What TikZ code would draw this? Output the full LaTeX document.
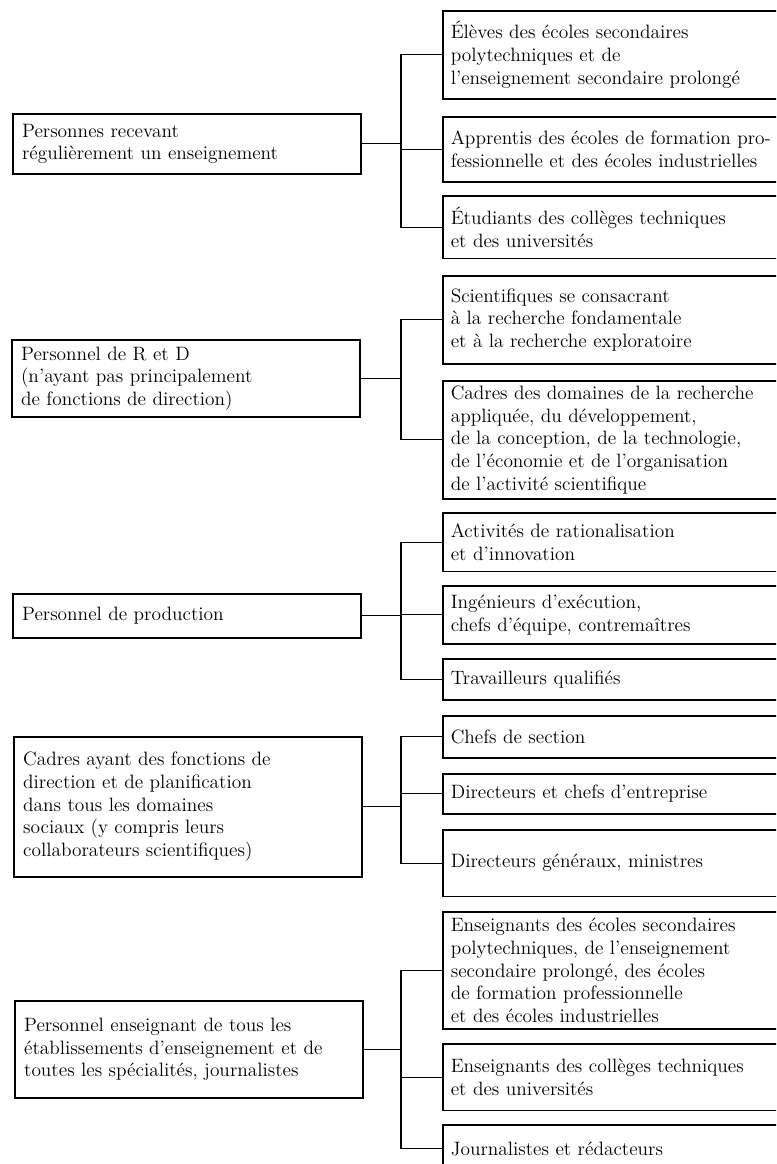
\documentclass[tikz,border=0pt]{standalone}
\usepackage{tikz}
\usetikzlibrary{positioning,calc}

\begin{document}
\begin{tikzpicture}[x=0.75pt,y=-0.75pt,
lbox/.style={draw,line width=1.2pt,anchor=north west,align=left,text width=247pt,inner xsep=7pt,inner ysep=3pt,font=\fontsize{14.5}{17}\selectfont},
rbox/.style={draw,line width=1.2pt,anchor=north west,align=left,text width=250pt,inner xsep=6pt,inner ysep=3pt,font=\fontsize{14.5}{17}\selectfont},
conn/.style={line width=0.9pt}
]
\useasboundingbox (0,0) rectangle (776,1164);
\clip (0,0) rectangle (776,1164);
\coordinate (bus) at (401,0);

% categories
\node[lbox,minimum height=45pt] (pers) at (12,113) {Personnes recevant\\régulièrement un enseignement};
\node[lbox,minimum height=58pt] (rd) at (11,339) {Personnel de R et D\\(n’ayant pas principalement\\de fonctions de direction)};
\node[lbox,minimum height=33pt] (prod) at (12,593) {Personnel de production};
\node[lbox,minimum height=105pt] (cadres) at (13,736) {Cadres ayant des fonctions de\\direction et de planification\\dans tous les domaines\\sociaux (y compris leurs\\collaborateurs scientifiques)};
\node[lbox,minimum height=73pt] (ens) at (14,1000) {Personnel enseignant de tous les\\établissements d’enseignement et de\\toutes les spécialités, journalistes};

% subgroups
\node[rbox,minimum height=66pt] (eleves) at (442,10) {Élèves des écoles secondaires\\polytechniques et de\\l’enseignement secondaire prolongé};
\node[rbox,minimum height=49pt] (appr) at (442,116) {Apprentis des écoles de formation pro-\\fessionnelle et des écoles industrielles};
\node[rbox,minimum height=47pt] (etud) at (442,195) {Étudiants des collèges techniques\\et des universités};
\node[rbox,minimum height=66pt] (scient) at (442,275) {Scientifiques se consacrant\\à la recherche fondamentale\\et à la recherche exploratoire};
\node[rbox,minimum height=88.5pt] (cadrdom) at (442,380) {Cadres des domaines de la recherche\\appliquée, du développement,\\de la conception, de la technologie,\\de l’économie et de l’organisation\\de l’activité scientifique};
\node[rbox,minimum height=44pt] (activ) at (442,512) {Activités de rationalisation\\et d’innovation};
\node[rbox,minimum height=43.5pt] (ingen) at (442,585) {Ingénieurs d’exécution,\\chefs d’équipe, contremaîtres};
\node[rbox,minimum height=31pt] (trav) at (442,658) {Travailleurs qualifiés};
\node[rbox,minimum height=31.5pt] (chefs) at (442,715) {Chefs de section};
\node[rbox,minimum height=30pt] (direct) at (442,773) {Directeurs et chefs d’entreprise};
\node[rbox,minimum height=50pt] (dirgen) at (442,829) {Directeurs généraux, ministres};
\node[rbox,minimum height=88pt] (ensa) at (442,911) {Enseignants des écoles secondaires\\polytechniques, de l’enseignement\\secondaire prolongé, des écoles\\de formation professionnelle\\et des écoles industrielles};
\node[rbox,minimum height=50pt] (ensb) at (442,1043) {Enseignants des collèges techniques\\et des universités};
\node[rbox,minimum height=36pt] (journ) at (442,1124) {Journalistes et rédacteurs};

% connectors
\foreach \p/\a/\b in {pers/eleves/etud,rd/scient/cadrdom,prod/activ/trav,cadres/chefs/dirgen,ens/ensa/journ}{
  \draw[conn] (\p.east) -- (\p.east -| bus);
  \draw[conn] (\a.west) -- (\a.west -| bus) -- (\b.west -| bus) -- (\b.west);
}
\foreach \c in {appr,ingen,direct,ensb}
  \draw[conn] (\c.west -| bus) -- (\c.west);
\end{tikzpicture}
\end{document}
